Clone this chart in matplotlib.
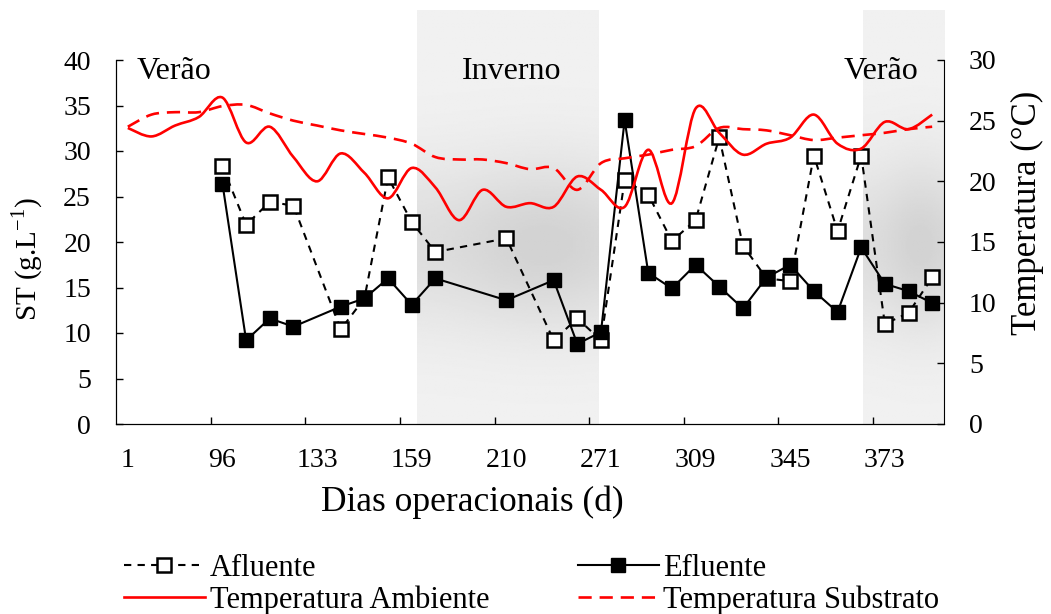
import numpy as np
import matplotlib
matplotlib.use('Agg')
import matplotlib.pyplot as plt
from matplotlib.path import Path
from matplotlib.patches import PathPatch
from matplotlib.lines import Line2D

plt.rcParams['font.family'] = ['Liberation Serif', 'DejaVu Serif']
plt.rcParams['mathtext.fontset'] = 'custom'
plt.rcParams['mathtext.rm'] = 'Liberation Serif'

nan = np.nan
# one category per sampling point, labels every 4 categories
dias = ['1', '96', '133', '159', '210', '271', '309', '345', '373']
afluente = [nan, nan, nan, nan, 28.3, 21.9, 24.4, 24.0, nan, 10.4, 13.8, 27.1, 22.2, 18.9, nan, nan,
            20.4, nan, 9.2, 11.6, 9.2, 26.8, 25.2, 20.1, 22.4, 31.5, 19.6, 16.0, 15.7, 29.5, 21.2,
            29.5, 11.0, 12.2, 16.1]
efluente = [nan, nan, nan, nan, 26.4, 9.2, 11.6, 10.7, nan, 12.9, 13.8, 16.0, 13.1, 16.0, nan, nan,
            13.6, nan, 15.8, 8.8, 10.1, 33.4, 16.6, 14.9, 17.5, 15.1, 12.7, 16.1, 17.5, 14.6, 12.3,
            19.4, 15.4, 14.6, 13.3]
temp_amb = [24.4, 23.7, 24.6, 25.3, 26.9, 23.2, 24.5, 22.0, 20.0, 22.3, 20.7, 18.6, 21.1, 19.5, 16.8,
            19.3, 17.9, 18.2, 17.9, 20.4, 19.3, 17.9, 22.6, 18.2, 26.0, 24.0, 22.2, 23.1, 23.6, 25.5,
            23.1, 22.7, 24.9, 24.3, 25.5]
temp_sub = [24.5, 25.5, 25.7, 25.7, 26.2, 26.3, 25.6, 25.0, 24.6, 24.2, 23.9, 23.6, 23.1, 22.0, 21.8,
            21.8, 21.5, 21.0, 21.1, 19.3, 21.5, 21.9, 22.2, 22.6, 22.9, 24.4, 24.3, 24.2, 23.8, 23.4,
            23.6, 23.8, 24.0, 24.3, 24.5]
inverno = (12.22, 19.91)
verao = (31.07, 34.5)

x = np.arange(len(temp_amb))


def smooth_path(xs, ys):
    # excel-like smoothed line (catmull-rom as cubic bezier)
    p = np.column_stack([xs, ys])
    verts = [p[0]]
    codes = [Path.MOVETO]
    n = len(p)
    for i in range(n - 1):
        p0 = p[i - 1] if i > 0 else p[i]
        p3 = p[i + 2] if i + 2 < n else p[i + 1]
        verts += [p[i] + (p[i + 1] - p0) / 6, p[i + 1] - (p3 - p[i]) / 6, p[i + 1]]
        codes += [Path.CURVE4] * 3
    return Path(verts, codes)


def shade(ax, x0, x1, y0, y1, px_top, px_bot):
    yy = np.linspace(px_top, px_bot, 300)[:, None]
    xx = np.linspace(0, 1, 60)[None, :]
    d = np.exp(-((yy - 245) / 85.0) ** 2) * (0.6 + 0.4 * np.exp(-((xx - 0.7) / 0.45) ** 2))
    img = 0.945 - 0.12 * d
    ax.imshow(img, cmap='gray', vmin=0, vmax=1, extent=[x0, x1, y0, y1], aspect='auto',
              interpolation='bilinear', clip_on=False, zorder=0)


fig = plt.figure(figsize=(10.51, 6.14), dpi=100)
ax = fig.add_axes([116 / 1051, 1 - 424 / 614, 828 / 1051, 364 / 614])

ytop = 40 + 50 / 9.1
shade(ax, inverno[0], inverno[1], 0, ytop, 10, 424)
shade(ax, verao[0], verao[1], 0, ytop, 10, 424)

a = np.array(afluente)
e = np.array(efluente)
ma = ~np.isnan(a)
me = ~np.isnan(e)
ax.plot(x[ma], a[ma], color='black', lw=1.5, ls=(0, (3.5, 3)), marker='s', ms=9.5,
        mfc='white', mec='black', mew=1.8, zorder=3)
ax.plot(x[me], e[me], color='black', lw=1.5, marker='s', ms=10.5, mfc='black', mec='black', zorder=4)

ax.set_xlim(-0.5, 34.5)
ax.set_ylim(0, 40)
ax.set_yticks(np.arange(0, 41, 5))
ax.set_xticks(np.arange(0, 33, 4))
ax.set_xticklabels(dias)
ax.set_xticks(np.arange(3.5, 32, 4), minor=True)
ax.tick_params(axis='x', which='major', length=0, labelsize=20, pad=17)
ax.tick_params(axis='x', which='minor', direction='in', length=5, width=1)
ax.tick_params(axis='y', direction='in', length=5, width=1, labelsize=20, pad=18)
ax.spines['top'].set_visible(False)
ax.spines['right'].set_visible(False)

ax2 = ax.twinx()
ax2.set_ylim(0, 30)
ax2.set_yticks(np.arange(0, 31, 5))
ax2.tick_params(axis='y', direction='in', length=5, width=1, labelsize=20, pad=18)
ax2.spines['top'].set_visible(False)
ax2.add_patch(PathPatch(smooth_path(x, temp_amb), fill=False, edgecolor='#ff0000', lw=1.9, zorder=5))
ax2.add_patch(PathPatch(smooth_path(x, temp_sub), fill=False, edgecolor='#ff0000', lw=1.9,
                        linestyle=(0, (5, 3)), zorder=5))

ax.text(0.39, 38.7, 'Verão', fontsize=23, ha='left', va='center')
ax.text(16.24, 38.7, 'Inverno', fontsize=23, ha='center', va='center')
ax.text(33.4, 38.7, 'Verão', fontsize=23, ha='right', va='center')

fig.text(472 / 1051, 1 - 502 / 614, 'Dias operacionais (d)', fontsize=25.5, ha='center', va='center')
fig.text(27 / 1051, 1 - 259 / 614, 'ST (g.L$^{-1}$)', fontsize=21, rotation=90, ha='center', va='center')
fig.text(1027 / 1051, 1 - 213 / 614, 'Temperatura (°C)', fontsize=25, rotation=90, ha='center', va='center')

handles = [
    Line2D([], [], color='black', lw=1.5, ls=(0, (3.5, 3)), marker='s', ms=9.5, mfc='white', mew=1.8),
    Line2D([], [], color='#ff0000', lw=1.9),
    Line2D([], [], color='black', lw=1.5, marker='s', ms=10.5),
    Line2D([], [], color='#ff0000', lw=1.9, ls=(0, (5, 3))),
]
labels = ['Afluente', 'Temperatura Ambiente', 'Efluente', 'Temperatura Substrato']
fig.legend(handles, labels, ncol=2, loc='upper left', bbox_to_anchor=(124 / 1051, 1 - 554 / 614),
           frameon=False, fontsize=22, handlelength=2.65, handletextpad=0.15, columnspacing=2.9,
           labelspacing=0.08, borderpad=0, borderaxespad=0)

fig.savefig('out.png', dpi=100)
